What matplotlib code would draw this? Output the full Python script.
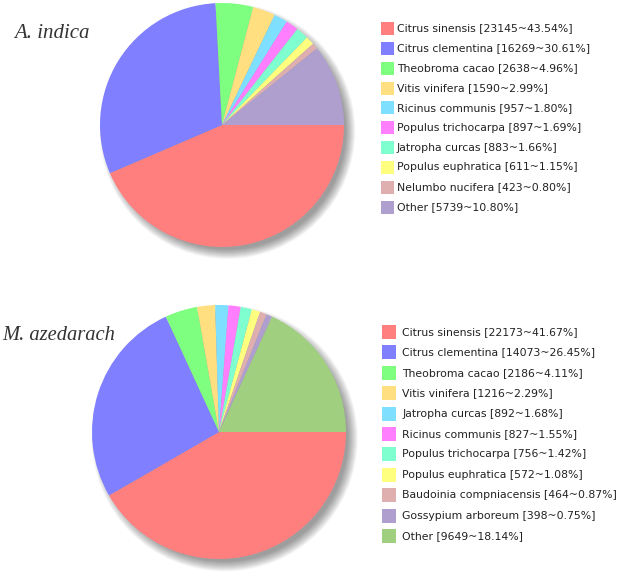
import numpy as np
import matplotlib
matplotlib.use("Agg")
import matplotlib.pyplot as plt
from matplotlib.patches import Circle, Rectangle

# ---- data ----
indica_names = ["Citrus sinensis", "Citrus clementina", "Theobroma cacao", "Vitis vinifera",
                "Ricinus communis", "Populus trichocarpa", "Jatropha curcas",
                "Populus euphratica", "Nelumbo nucifera", "Other"]
indica_counts = [23145, 16269, 2638, 1590, 957, 897, 883, 611, 423, 5739]
indica_pcts = [43.54, 30.61, 4.96, 2.99, 1.80, 1.69, 1.66, 1.15, 0.80, 10.80]

azed_names = ["Citrus sinensis", "Citrus clementina", "Theobroma cacao", "Vitis vinifera",
              "Jatropha curcas", "Ricinus communis", "Populus trichocarpa",
              "Populus euphratica", "Baudoinia compniacensis", "Gossypium arboreum", "Other"]
azed_counts = [22173, 14073, 2186, 1216, 892, 827, 756, 572, 464, 398, 9649]
azed_pcts = [41.67, 26.45, 4.11, 2.29, 1.68, 1.55, 1.42, 1.08, 0.87, 0.75, 18.14]

palette = ["#FF7F7F", "#7F7FFF", "#7FFF7F", "#FFDF7F", "#7FDFFF", "#FF7FFF",
           "#7FFFCF", "#FFFF7F", "#DFAFAF", "#AF9FCF", "#9FCF7F"]

W, H = 624, 579
fig = plt.figure(figsize=(W / 100, H / 100), dpi=100)


def px_axes(cx, cy, r, lim=1.2):
    # square axes centred on pixel (cx, cy) with pie radius r pixels
    half = r * lim
    return fig.add_axes([(cx - half) / W, (H - cy - half) / H, 2 * half / W, 2 * half / H])


def draw_pie(cx, cy, r, counts):
    ax = px_axes(cx, cy, r)
    # soft drop shadow towards the lower right
    for k in range(14):
        ax.add_patch(Circle((0.045, -0.05), 0.97 + 0.006 * k, color="#000000",
                            alpha=0.03, lw=0, zorder=0))
    ax.pie(counts, colors=palette[:len(counts)], startangle=0, counterclock=False,
           radius=1.0, wedgeprops=dict(linewidth=0))
    ax.set_xlim(-1.2, 1.2)
    ax.set_ylim(-1.2, 1.2)
    ax.set_aspect("equal")
    ax.axis("off")
    return ax


def draw_legend(x0, y0, step, names, counts, pcts, sq=13, tx=None):
    for i, (n, c, p) in enumerate(zip(names, counts, pcts)):
        yc = y0 + i * step
        fig.patches.append(Rectangle((x0 / W, (H - yc - sq / 2) / H), sq / W, sq / H,
                                     transform=fig.transFigure, facecolor=palette[i],
                                     edgecolor="none"))
        fig.text(tx / W, (H - yc) / H, f"{n} [{c}~{p:.2f}%]", fontsize=7.8,
                 color="#222222", va="center", ha="left", family="DejaVu Sans")


draw_pie(222, 125, 122, indica_counts)
draw_pie(219, 432, 127, azed_counts)

draw_legend(381, 28.5, 19.85, indica_names, indica_counts, indica_pcts, tx=397)
draw_legend(382, 332, 20.4, azed_names, azed_counts, azed_pcts, sq=14, tx=402)

fig.text(14 / W, (H - 38) / H, "A. indica", fontsize=15, style="italic",
         family="Liberation Serif", color="#333333", va="baseline")
fig.text(2 / W, (H - 340) / H, "M. azedarach", fontsize=14.8, style="italic",
         family="Liberation Serif", color="#333333", va="baseline")

fig.savefig("out.png", dpi=100)
